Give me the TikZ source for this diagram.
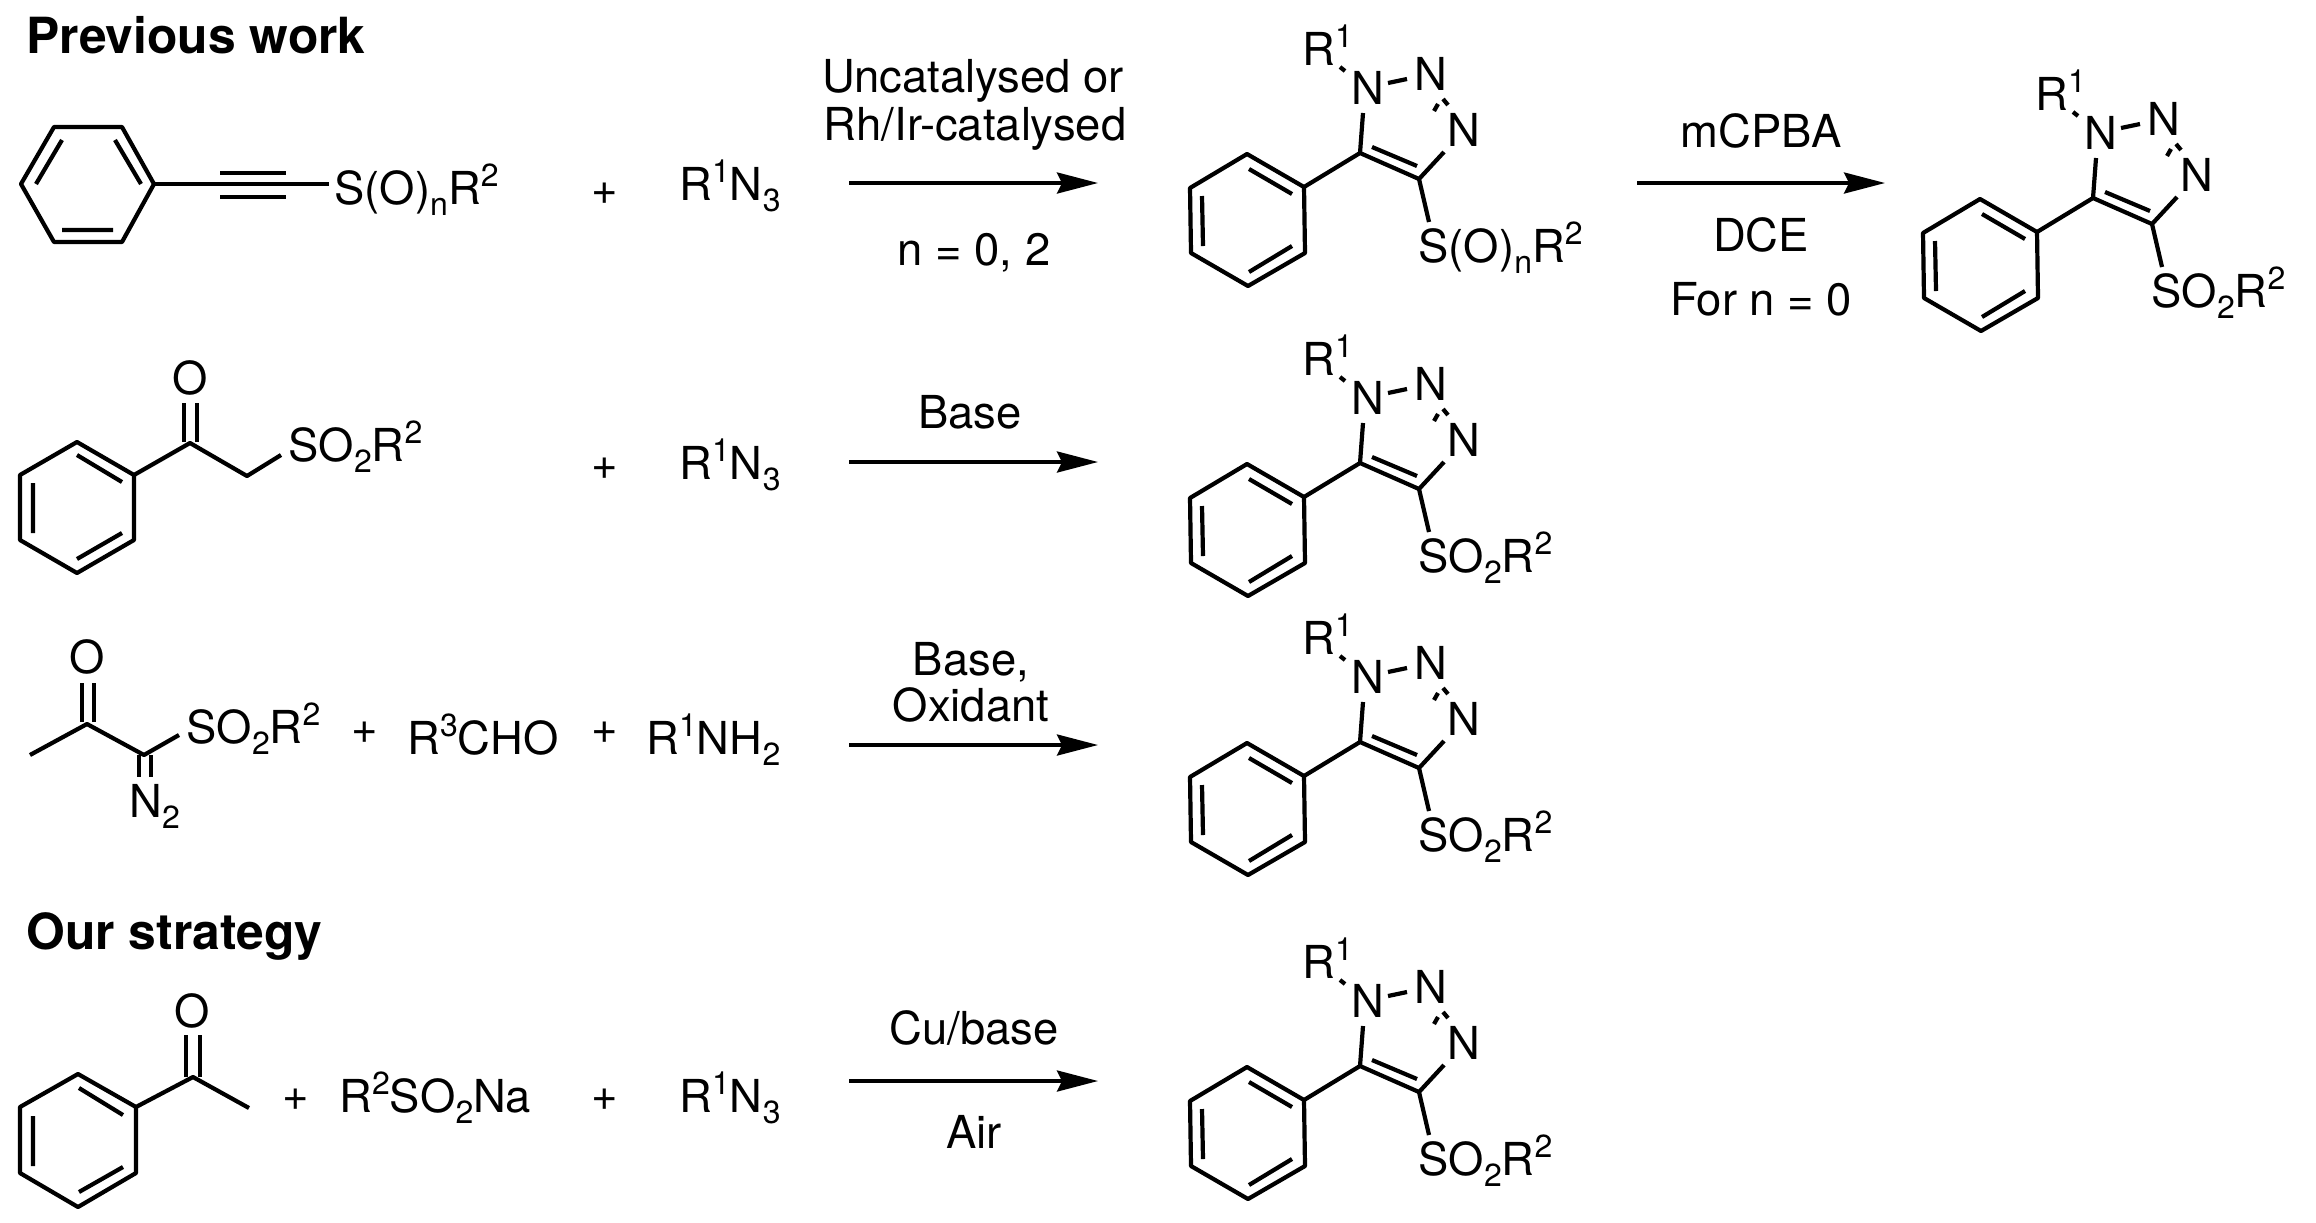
\documentclass[tikz,border=0pt]{standalone}
\usepackage{fontspec}
\setmainfont{TeX Gyre Heros}
\usetikzlibrary{arrows.meta}
\newcommand{\UpIdx}[1]{\raisebox{8.8pt}{\fontsize{16}{16}\selectfont #1}}
\newcommand{\DnIdx}[1]{\raisebox{-5.8pt}{\fontsize{16}{16}\selectfont #1}}
\newcommand{\SulfonylText}{SO\DnIdx{2}R\UpIdx{2}}
\newcommand{\AzideText}{R\UpIdx{1}N\DnIdx{3}}
% triazole product: x shift, y shift, name prefix, label on sulfur
\newcommand{\Triazole}[4]{
\begin{scope}[shift={(#1,#2)}]
\draw[MyBonds] (1190,188)--(1247,154)--(1304,187)--(1305,253)--(1248,286)--(1191,253)--cycle;
\draw[MyBonds] (1249,169)--(1292,194) (1202,196)--(1203,246) (1249,272)--(1292,246);
\draw[MyBonds] (1304,187)--(1360,153)--(1419,179)--(1444,152);
\draw[MyBonds] (1372,147)--(1417,166);
\draw[MyBonds] (1360,153)--(1363,113);
\draw[MyBonds] (1419,179)--(1429,222);
\draw[MyBonds] (1340,67)--(1345,71);
\draw[MyBonds] (1388,83)--(1407,79);
\draw[MyBonds] (1434,111)--(1438,104) (1443,99)--(1448,105);
\node[LeftText] (#3R) at (1302,65) {R\UpIdx{1}};
\node[LeftText] (#3Na) at (1351,104) {N};
\node[LeftText] (#3Nb) at (1414,90) {N};
\node[LeftText] (#3Nc) at (1447,146) {N};
\node[LeftText] (#3S) at (1418,262) {#4};
\end{scope}
}
\begin{document}
\begin{tikzpicture}[
x=0.5pt,y=-0.5pt,
MyBonds/.style={line width=2.1pt,line join=round},
MyArrows/.style={line width=1.8pt,-{Stealth[length=20.5pt,width=10.5pt,inset=2.5pt]}},
LeftText/.style={anchor=base west},
MidText/.style={anchor=base},
Heading/.style={anchor=base west,font=\fontsize{24.9}{28}\selectfont\bfseries},
every node/.style={inner sep=0pt,font=\fontsize{22.7}{25}\selectfont}
]
\useasboundingbox (0,0) rectangle (2316,1222);

\node[Heading] (PrevHead) at (26,53) {Previous work};
\node[Heading] (OurHead) at (26,949) {Our strategy};

% first row
\draw[MyBonds] (21,184)--(54,127)--(122,127)--(154,184)--(122,242)--(54,242)--cycle;
\draw[MyBonds] (62,140)--(36,184) (115,140)--(141,184) (62,230)--(113,230);
\draw[MyBonds] (154,184)--(329,184);
\draw[MyBonds] (220,173)--(286,173) (220,197)--(286,197);
\node[LeftText] (AlkyneS) at (334,204) {S(O)\DnIdx{n}R\UpIdx{2}};
\node[MidText] (PlusA) at (605,204) {+};
\node[LeftText] (AzideA) at (679,200) {\AzideText};
\coordinate (ArrAa) at (849,183);
\coordinate (ArrAb) at (1098,183);
\draw[MyArrows] (ArrAa)--(ArrAb);
\node[MidText] (CondAa) at (973,92) {Uncatalysed or};
\node[MidText] (CondAb) at (975,140) {Rh/Ir-catalysed};
\node[MidText] (CondAc) at (974,265) {n = 0, 2};
\Triazole{0}{0}{A}{S(O)\DnIdx{n}R\UpIdx{2}}
\coordinate (ArrBa) at (1637,183);
\coordinate (ArrBb) at (1885,183);
\draw[MyArrows] (ArrBa)--(ArrBb);
\node[MidText] (CondBa) at (1761,147) {mCPBA};
\node[MidText] (CondBb) at (1761,251) {DCE};
\node[MidText] (CondBc) at (1761,315) {For n = 0};
\Triazole{733}{45}{B}{\SulfonylText}

% second row
\draw[MyBonds] (20,475)--(77,442)--(134,475)--(134,540)--(77,573)--(20,540)--cycle;
\draw[MyBonds] (77,455)--(122,482) (33,483)--(33,533) (77,559)--(122,533);
\draw[MyBonds] (134,475)--(190,443)--(247,476)--(281,455);
\draw[MyBonds] (184,442)--(184,403) (197,442)--(197,403);
\node[MidText] (KetoO) at (190,394) {O};
\node[LeftText] (KetoS) at (288,461) {\SulfonylText};
\node[MidText] (PlusB) at (605,479) {+};
\node[LeftText] (AzideB) at (679,479) {\AzideText};
\coordinate (ArrCa) at (849,462);
\coordinate (ArrCb) at (1098,462);
\draw[MyArrows] (ArrCa)--(ArrCb);
\node[MidText] (CondC) at (970,428) {Base};
\Triazole{0}{310}{C}{\SulfonylText}

% third row
\draw[MyBonds] (30,755)--(87,724)--(144,755)--(179,735);
\draw[MyBonds] (82,722)--(82,683) (94,722)--(94,683);
\draw[MyBonds] (139,755)--(139,777) (151,755)--(151,777);
\node[MidText] (DiazoO) at (87,673) {O};
\node[LeftText] (DiazoN) at (129,817) {N\DnIdx{2}};
\node[LeftText] (DiazoS) at (186,743) {\SulfonylText};
\node[MidText] (PlusC) at (365,743) {+};
\node[LeftText] (Aldehyde) at (407,754) {R\UpIdx{3}CHO};
\node[MidText] (PlusD) at (605,743) {+};
\node[LeftText] (Amine) at (646,754) {R\UpIdx{1}NH\DnIdx{2}};
\coordinate (ArrDa) at (849,745);
\coordinate (ArrDb) at (1098,745);
\draw[MyArrows] (ArrDa)--(ArrDb);
\node[MidText] (CondDa) at (971,675) {Base,};
\node[MidText] (CondDb) at (971,721) {Oxidant};
\Triazole{0}{589}{D}{\SulfonylText}

% last row
\draw[MyBonds] (20,1107)--(78,1074)--(136,1107)--(136,1173)--(78,1207)--(20,1173)--cycle;
\draw[MyBonds] (79,1088)--(123,1115) (33,1116)--(33,1166) (79,1192)--(123,1167);
\draw[MyBonds] (136,1107)--(193,1077)--(249,1108);
\draw[MyBonds] (186,1077)--(186,1035) (200,1077)--(200,1035);
\node[MidText] (AcetoO) at (192,1027) {O};
\node[MidText] (PlusE) at (296,1110) {+};
\node[LeftText] (Sulfinate) at (339,1112) {R\UpIdx{2}SO\DnIdx{2}Na};
\node[MidText] (PlusF) at (605,1110) {+};
\node[LeftText] (AzideE) at (679,1112) {\AzideText};
\coordinate (ArrEa) at (849,1081);
\coordinate (ArrEb) at (1098,1081);
\draw[MyArrows] (ArrEa)--(ArrEb);
\node[MidText] (CondEa) at (974,1044) {Cu/base};
\node[MidText] (CondEb) at (974,1148) {Air};
\Triazole{0}{913}{E}{\SulfonylText}

\end{tikzpicture}
\end{document}
